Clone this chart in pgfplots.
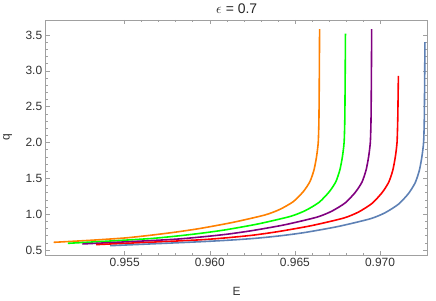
\documentclass[border=0pt]{standalone}
\usepackage{pgfplots}
\pgfplotsset{compat=1.18}
\usepackage{fontspec}
\setmainfont{Liberation Sans}
\definecolor{mOrange}{RGB}{255,128,0}
\definecolor{mGreen}{RGB}{0,255,0}
\definecolor{mPurple}{RGB}{128,0,128}
\definecolor{mRed}{RGB}{255,0,0}
\definecolor{mBlue}{RGB}{94,129,181}
\definecolor{frameGray}{RGB}{160,160,160}
\begin{document}
\begin{tikzpicture}[x=1bp,y=1bp]
\useasboundingbox (-45.7,-45) rectangle (390.3,255);
\begin{axis}[
  at={(0,0)}, anchor=south west,
  scale only axis, width=382bp, height=235bp,
  xmin=0.950359, xmax=0.972802, ymin=0.430, ymax=3.709,
  xtick={0.955,0.960,0.965,0.970},
  ytick={0.5,1.0,1.5,2.0,2.5,3.0,3.5},
  minor x tick num=4, minor y tick num=4,
  tick align=inside, tick pos=both,
  major tick length=4.5bp, minor tick length=2.5bp,
  every tick/.style={frameGray, line width=0.6pt},
  axis line style={frameGray, line width=0.8pt},
  xticklabel style={/pgf/number format/.cd, fixed, fixed zerofill, precision=3, /tikz/.cd},
  yticklabel style={/pgf/number format/.cd, fixed, fixed zerofill, precision=1, /tikz/.cd},
  /pgf/number format/assume math mode=true,
  scaled x ticks=false,
  tick label style={font=\fontsize{12}{14}\selectfont, text=black!80},
  xlabel={E}, ylabel={q},
  xlabel style={font=\fontsize{12}{14}\selectfont, text=black!80, at={(axis description cs:0.5,0)}, anchor=center, yshift=-36.7bp},
  ylabel style={font=\fontsize{12}{14}\selectfont, text=black!80, at={(axis description cs:0,0.5)}, anchor=center, yshift=38bp},
  title={$\epsilon$ = 0.7},
  title style={font=\fontsize{14}{16}\selectfont, text=black!85, at={(axis description cs:0.5,1)}, anchor=center, yshift=5.5bp},
  clip=true,
]
\addplot[mOrange, line width=1.6pt, smooth, tension=0.4] coordinates {
(0.95083,0.607) (0.95297,0.635) (0.95502,0.668) (0.95649,0.705) (0.95795,0.748)
(0.95942,0.800) (0.96135,0.885) (0.96323,0.988) (0.96411,1.066) (0.96490,1.174)
(0.96549,1.314) (0.96588,1.453) (0.96612,1.616) (0.96627,1.80) (0.96637,2.0)
(0.96641,2.3) (0.96643,2.8) (0.96645,3.58)};
\addplot[mGreen, line width=1.6pt, smooth, tension=0.4] coordinates {
(0.95166,0.593) (0.95449,0.630) (0.95654,0.660) (0.95800,0.693) (0.95947,0.733)
(0.96094,0.782) (0.96287,0.865) (0.96475,0.970) (0.96563,1.052) (0.96642,1.165)
(0.96701,1.31) (0.96740,1.45) (0.96764,1.616) (0.96779,1.80) (0.96789,2.0)
(0.96793,2.3) (0.96795,2.8) (0.96797,3.52)};
\addplot[mPurple, line width=1.6pt, smooth, tension=0.4] coordinates {
(0.95251,0.584) (0.95603,0.625) (0.95808,0.652) (0.95955,0.683) (0.96101,0.720)
(0.96248,0.770) (0.96441,0.852) (0.96629,0.958) (0.96717,1.042) (0.96796,1.158)
(0.96855,1.305) (0.96894,1.447) (0.96918,1.614) (0.96933,1.80) (0.96943,2.0)
(0.96947,2.3) (0.96949,2.8) (0.96951,3.58)};
\addplot[mRed, line width=1.6pt, smooth, tension=0.4] coordinates {
(0.95332,0.575) (0.95760,0.620) (0.95965,0.645) (0.96112,0.673) (0.96258,0.708)
(0.96405,0.758) (0.96598,0.840) (0.96786,0.945) (0.96874,1.030) (0.96953,1.150)
(0.97012,1.30) (0.97051,1.445) (0.97075,1.612) (0.97090,1.80) (0.97100,2.0)
(0.97104,2.3) (0.97106,2.6) (0.97108,2.93)};
\addplot[mBlue, line width=1.6pt, smooth, tension=0.4] coordinates {
(0.95414,0.560) (0.95916,0.612) (0.96121,0.638) (0.96268,0.663) (0.96414,0.698)
(0.96561,0.745) (0.96754,0.828) (0.96942,0.935) (0.97030,1.020) (0.97109,1.140)
(0.97168,1.29) (0.97207,1.44) (0.97231,1.61) (0.97246,1.80) (0.97256,2.0)
(0.97260,2.3) (0.97262,2.8) (0.97264,3.40)};
\end{axis}
\end{tikzpicture}
\end{document}
